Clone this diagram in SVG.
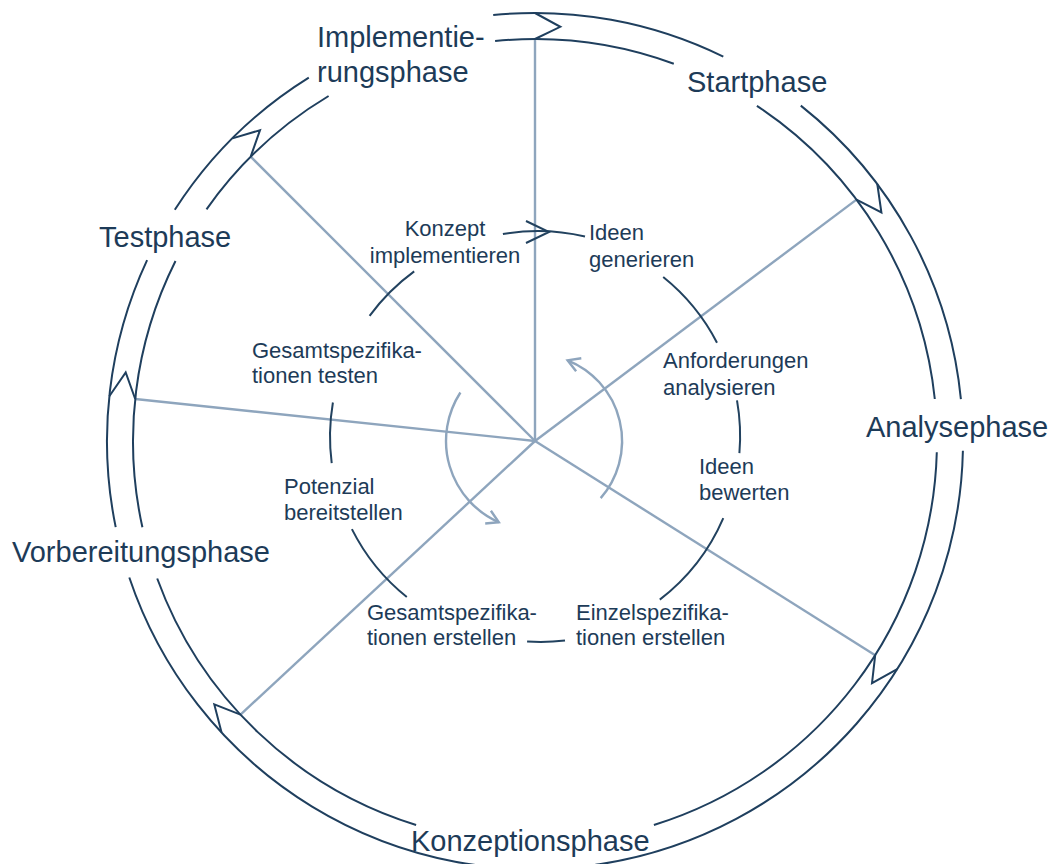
<svg xmlns="http://www.w3.org/2000/svg" width="1064" height="864" viewBox="0 0 1064 864">
<style>
.ring{fill:none;stroke:#1f3f5e;stroke-width:2;stroke-linejoin:miter}
.spoke{fill:none;stroke:#8ea5bd;stroke-width:2.4}
.cyc{fill:none;stroke:#8ea5bd;stroke-width:2.4}
.con{fill:none;stroke:#22425f;stroke-width:2}
.ph{font-family:"Liberation Sans",Arial,sans-serif;font-size:29px;fill:#1d3b58}
.lb{font-family:"Liberation Sans",Arial,sans-serif;font-size:22px;fill:#1d3b58}
</style>
<rect width="1064" height="864" fill="#ffffff"/>
<g id="connectors">
<g id="spokes">
<line class="spoke" x1="535" y1="441" x2="535" y2="39"/>
<line class="spoke" x1="535" y1="441" x2="856.5" y2="199.6"/>
<line class="spoke" x1="535" y1="441" x2="875.2" y2="655.2"/>
<line class="spoke" x1="535" y1="441" x2="240.5" y2="714.6"/>
<line class="spoke" x1="535" y1="441" x2="135.2" y2="399"/>
<line class="spoke" x1="535" y1="441" x2="250.7" y2="156.7"/>
</g>
<g id="ring">
<path class="ring" d="M493.2,15 A428,428 0 0 1 723.3,56.7"/>
<path class="ring" d="M800.8,105.6 A428,428 0 0 1 960.9,399.2"/>
<path class="ring" d="M962.9,450.7 A428,428 0 0 1 129.3,577.5"/>
<path class="ring" d="M115.7,527.1 A428,428 0 0 1 147.1,260.1"/>
<path class="ring" d="M174.8,209.8 A428,428 0 0 1 308.8,77.6"/>
<path class="ring" d="M495.1,41 A402,402 0 0 1 673.8,63.7"/>
<path class="ring" d="M756.9,105.8 A402,402 0 0 1 934.8,399"/>
<path class="ring" d="M936.8,452.2 A402,402 0 0 1 653.9,825"/>
<path class="ring" d="M416.1,825 A402,402 0 0 1 157.2,578.5"/>
<path class="ring" d="M142.4,527.3 A402,402 0 0 1 175.5,261"/>
<path class="ring" d="M206.5,209.3 A402,402 0 0 1 328.6,96"/>
<polyline class="ring" points="535,13 560.3,26.8 535,39"/>
<polyline class="ring" points="877.3,184 881.4,212.5 856.5,199.6"/>
<polyline class="ring" points="897.2,669.1 872,683.2 875.2,655.2"/>
<polyline class="ring" points="221.5,732.3 214.3,704.4 240.5,714.6"/>
<polyline class="ring" points="109.3,396.3 125.7,372.5 135.2,399"/>
<polyline class="ring" points="232.4,138.4 260,130.2 250.7,156.7"/>
</g>
<g id="cycle-links">
<path class="con" d="M502.9,234 A205,205 0 0 1 585,236.5"/>
<polyline class="con" points="526,221 549,232 526,243"/>
<path class="con" d="M663.2,277 A205,205 0 0 1 717,342.7"/>
<path class="con" d="M737,400.3 A205,205 0 0 1 739.4,453.1"/>
<path class="con" d="M723.3,518.1 A205,205 0 0 1 659.8,599.6"/>
<path class="con" d="M565,640.5 A205,205 0 0 1 527.1,641.5"/>
<path class="con" d="M406.8,597 A205,205 0 0 1 351.9,529.1"/>
<path class="con" d="M331.7,463.1 A205,205 0 0 1 332.9,402.5"/>
<path class="con" d="M369.6,315.9 A205,205 0 0 1 414.2,271.4"/>
</g>
<g id="rotation-arrows">
<path class="cyc" d="M600.7,498.1 A87,87 0 0 0 567.6,360.3"/>
<polyline class="cyc" points="581.3,358.3 567.6,360.3 576.1,371.3"/>
<path class="cyc" d="M460.4,392.5 A89,89 0 0 0 498.8,522.3"/>
<polyline class="cyc" points="485.2,523.5 498.8,522.3 490.9,510.7"/>
</g>
</g>
<g id="phase-start"><text class="ph" x="687" y="92">Startphase</text></g>
<g id="phase-analyse"><text class="ph" x="866" y="437">Analysephase</text></g>
<g id="phase-konzeption"><text class="ph" x="411" y="851">Konzeptionsphase</text></g>
<g id="phase-vorbereitung"><text class="ph" x="12" y="562">Vorbereitungsphase</text></g>
<g id="phase-test"><text class="ph" x="99" y="247">Testphase</text></g>
<g id="phase-implementierung"><text class="ph" x="317" y="47">Implementie-</text><text class="ph" x="317" y="82">rungsphase</text></g>
<g id="step-ideen-generieren"><text class="lb" x="589" y="240">Ideen</text><text class="lb" x="589" y="267">generieren</text></g>
<g id="step-anforderungen"><text class="lb" x="663" y="368">Anforderungen</text><text class="lb" x="663" y="395">analysieren</text></g>
<g id="step-ideen-bewerten"><text class="lb" x="699" y="474">Ideen</text><text class="lb" x="699" y="500">bewerten</text></g>
<g id="step-einzelspez"><text class="lb" x="576" y="620">Einzelspezifika-</text><text class="lb" x="576" y="645">tionen erstellen</text></g>
<g id="step-gesamtspez-erstellen"><text class="lb" x="367" y="620">Gesamtspezifika-</text><text class="lb" x="367" y="645">tionen erstellen</text></g>
<g id="step-potenzial"><text class="lb" x="284" y="494">Potenzial</text><text class="lb" x="284" y="520">bereitstellen</text></g>
<g id="step-gesamtspez-testen"><text class="lb" x="252" y="358">Gesamtspezifika-</text><text class="lb" x="252" y="383">tionen testen</text></g>
<g id="step-konzept"><text class="lb" x="445" y="236" text-anchor="middle">Konzept</text><text class="lb" x="445" y="263" text-anchor="middle">implementieren</text></g>
</svg>
